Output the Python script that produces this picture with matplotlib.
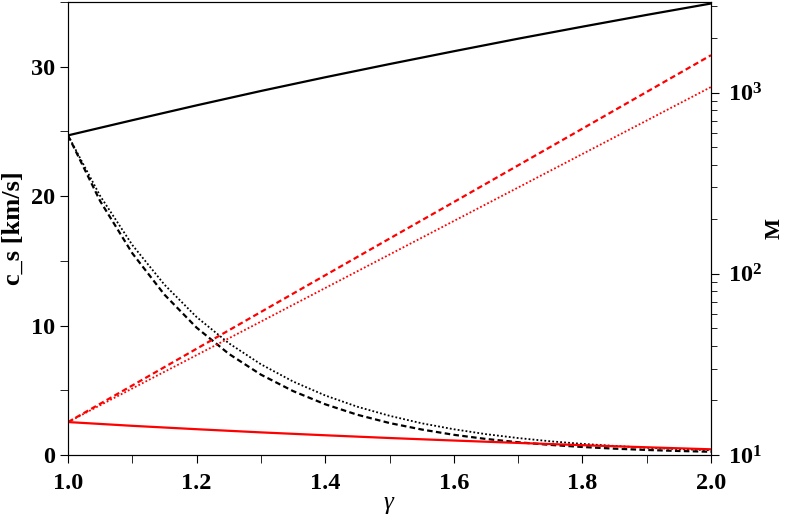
import matplotlib
matplotlib.use("Agg")
import matplotlib.pyplot as plt
from matplotlib.ticker import MultipleLocator, LogLocator, NullFormatter

plt.rcParams['font.family'] = ['Liberation Serif', 'DejaVu Serif']
plt.rcParams['font.weight'] = 'bold'
plt.rcParams['mathtext.fontset'] = 'custom'
plt.rcParams['mathtext.rm'] = 'Liberation Serif:bold'
plt.rcParams['mathtext.bf'] = 'Liberation Serif:bold'
plt.rcParams['mathtext.it'] = 'Liberation Serif:italic:normal'

gamma = [1.0, 1.1, 1.2, 1.3, 1.4, 1.5, 1.6, 1.7, 1.8, 1.9, 2.0]
gamma_fine = [1.0, 1.05, 1.1, 1.15, 1.2, 1.25, 1.3, 1.35, 1.4, 1.45, 1.5,
              1.55, 1.6, 1.65, 1.7, 1.75, 1.8, 1.85, 1.9, 1.95, 2.0]

# sound speed [km/s], left axis
cs_solid = [24.7, 25.87, 27.02, 28.13, 29.19, 30.21, 31.2, 32.17, 33.1, 34.01, 34.89]
cs_dashed = [24.7, 19.62, 15.59, 12.39, 9.84, 7.82, 6.21, 4.94, 3.92, 3.11, 2.47,
             1.97, 1.56, 1.24, 0.985, 0.78, 0.62, 0.49, 0.39, 0.31, 0.25]
cs_dotted = [24.7, 20.02, 16.23, 13.16, 10.66, 8.64, 7.01, 5.68, 4.6, 3.73, 3.03,
             2.45, 1.99, 1.61, 1.31, 1.06, 0.86, 0.7, 0.56, 0.46, 0.37]

# M, right axis (log)
M_solid = [15.2, 14.49, 13.88, 13.33, 12.85, 12.41, 12.02, 11.66, 11.33, 11.03, 10.75]
M_dashed = [15.2, 24.2, 38.6, 61.6, 98.2, 156.5, 249, 397, 633, 1010, 1610]
M_dotted = [15.2, 23.3, 35.6, 54.5, 83.5, 127.8, 195.7, 299.6, 458.7, 702, 1075]

fig = plt.figure(figsize=(7.89, 5.2), dpi=100)
ax = fig.add_axes([0.0862, 0.125, 0.815, 0.871])

ax.plot(gamma, cs_solid, color='black', lw=1.6)
ax.plot(gamma_fine, cs_dashed, color='black', lw=1.6, ls=(0, (2.5, 1.5)))
ax.plot(gamma_fine, cs_dotted, color='black', lw=1.3, ls=(0, (1, 1.2)))

ax.set_xlim(1.0, 2.0)
ax.set_ylim(0, 35)
ax.xaxis.set_major_locator(MultipleLocator(0.2))
ax.xaxis.set_minor_locator(MultipleLocator(0.1))
ax.yaxis.set_major_locator(MultipleLocator(10))
ax.yaxis.set_minor_locator(MultipleLocator(5))
ax.tick_params(axis='both', which='major', labelsize=17.5, length=6, direction='out')
ax.tick_params(axis='both', which='minor', length=6, direction='out')
ax.tick_params(axis='x', which='major', pad=7)
ax.set_xticklabels(['%.1f' % v for v in ax.get_xticks()])
ax.set_xlabel(r'$\gamma$', fontsize=18, labelpad=0)
ax.set_ylabel('c_s [km/s]', fontsize=19, fontweight='bold', labelpad=4)
ax.spines['left'].set_color('#555555')
ax.spines['bottom'].set_color('black')

ax2 = ax.twinx()
ax2.set_yscale('log')
ax2.plot(gamma, M_solid, color='red', lw=1.6)
ax2.plot(gamma, M_dashed, color='red', lw=1.6, ls=(0, (2.5, 1.5)))
ax2.plot(gamma, M_dotted, color='red', lw=1.3, ls=(0, (1, 1.2)))
ax2.set_ylim(10, 10 ** 3.5)
ax2.yaxis.set_major_locator(LogLocator(base=10, numticks=10))
ax2.yaxis.set_minor_locator(LogLocator(base=10, subs=range(2, 10), numticks=10))
ax2.yaxis.set_minor_formatter(NullFormatter())
ax2.tick_params(axis='y', which='major', labelsize=17.5, length=6, direction='out', pad=6)
ax2.tick_params(axis='y', which='minor', length=4, direction='out')
ax2.set_ylabel('M', fontsize=16, fontweight='bold', labelpad=2)

fig.savefig('out.png', dpi=100)
